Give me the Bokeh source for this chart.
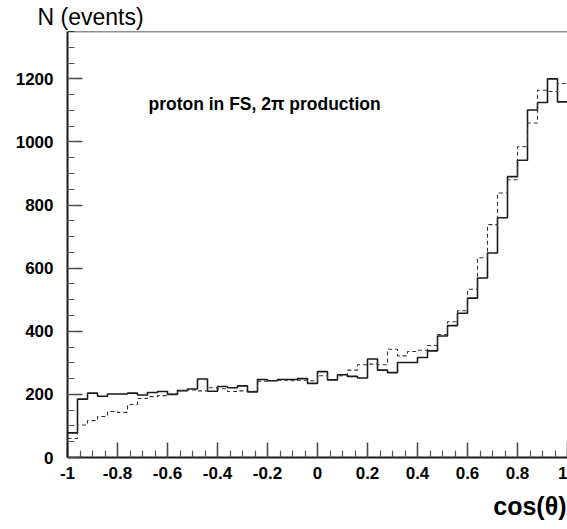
import numpy as np
from bokeh.plotting import figure
from bokeh.models import Range1d, FixedTicker, Label, Span, Title
from bokeh.embed import file_html
from bokeh.resources import INLINE

# ---- data ----
X_LO, X_HI, N_BINS = -1.0, 1.0, 50
SOLID = [78, 185, 204, 194, 201, 201, 204, 198, 206, 209,
         200, 212, 217, 249, 210, 225, 221, 227, 208, 247,
         243, 247, 247, 250, 235, 272, 246, 262, 257, 252,
         312, 277, 269, 301, 301, 317, 338, 385, 418, 457,
         505, 569, 648, 760, 890, 942, 1101, 1125, 1200, 1127]
DASHED = [60, 103, 117, 130, 146, 143, 168, 187, 193, 196,
          201, 212, 214, 211, 221, 218, 209, 211, 210, 242,
          243, 245, 243, 245, 243, 259, 246, 259, 277, 294,
          296, 294, 343, 322, 336, 340, 355, 390, 430, 465,
          533, 633, 738, 838, 880, 985, 1060, 1164, 1160, 1185]
X_TICKS = [-1.0, -0.8, -0.6, -0.4, -0.2, 0.0, 0.2, 0.4, 0.6, 0.8, 1.0]
X_TICK_LABELS = ["-1", "-0.8", "-0.6", "-0.4", "-0.2", "0", "0.2", "0.4", "0.6", "0.8", "1"]
Y_TICKS = [0, 200, 400, 600, 800, 1000, 1200]
Y_MAX = 1350

edges = np.linspace(X_LO, X_HI, N_BINS + 1)
x_minor = list(np.round(np.arange(X_LO, X_HI + 1e-9, 0.05), 4))
y_minor = list(range(0, Y_MAX + 1, 50))

p = figure(width=567, height=529, output_backend="svg", toolbar_location=None,
           x_range=Range1d(X_LO, X_HI), y_range=Range1d(0, Y_MAX),
           min_border_left=67, min_border_right=0, min_border_top=30,
           min_border_bottom=72)
p.background_fill_color = "white"
p.border_fill_color = "white"
p.outline_line_color = None
p.xgrid.visible = False
p.ygrid.visible = False

# y-axis caption as the plot title (top left)
p.title.text = "N (events)"
p.title.align = "left"
p.title.offset = -30
p.title.standoff = 3
p.title.text_font = "Liberation Sans"
p.title.text_font_style = "normal"
p.title.text_font_size = "23px"
p.title.text_color = "black"

ink = "#1a1a1a"
p.step(list(edges), SOLID + [SOLID[-1]], mode="after", line_color=ink, line_width=1.6)
p.step(list(edges), DASHED + [DASHED[-1]], mode="after", line_color="#333333",
       line_width=1.1, line_dash="4 3")

# top frame line
p.add_layout(Span(location=Y_MAX, dimension="width", line_color=ink, line_width=1.5))

for ax in (p.xaxis[0], p.yaxis[0]):
    ax.axis_line_color = ink
    ax.axis_line_width = 2
    ax.major_tick_line_color = "#444444"
    ax.minor_tick_line_color = "#555555"
    ax.major_tick_line_width = 1.5
    ax.minor_tick_line_width = 1.2
    ax.major_tick_in = 15
    ax.major_tick_out = 0
    ax.minor_tick_in = 7
    ax.minor_tick_out = 0
    ax.major_label_text_font = "Liberation Sans"
    ax.major_label_text_font_style = "bold"
    ax.major_label_text_font_size = "17px"
    ax.major_label_text_color = "black"

p.xaxis[0].ticker = FixedTicker(ticks=X_TICKS, minor_ticks=x_minor)
p.xaxis[0].major_label_overrides = {t: l for t, l in zip(X_TICKS, X_TICK_LABELS)}
p.xaxis[0].major_label_standoff = 9
p.yaxis[0].ticker = FixedTicker(ticks=Y_TICKS, minor_ticks=y_minor)
p.yaxis[0].major_label_standoff = 14

# x-axis caption at bottom right
p.add_layout(Title(text="cos(θ)", align="right", offset=1, standoff=16,
                   text_font="Liberation Sans", text_font_style="bold",
                   text_font_size="25px", text_color="black"), "below")

p.add_layout(Label(x=-0.676, y=1121, text="proton in FS, 2π production",
                   text_font="Liberation Sans", text_font_style="bold",
                   text_font_size="17.5px", text_baseline="middle", text_color="black"))

open("out.html", "w").write(file_html(p, INLINE))
